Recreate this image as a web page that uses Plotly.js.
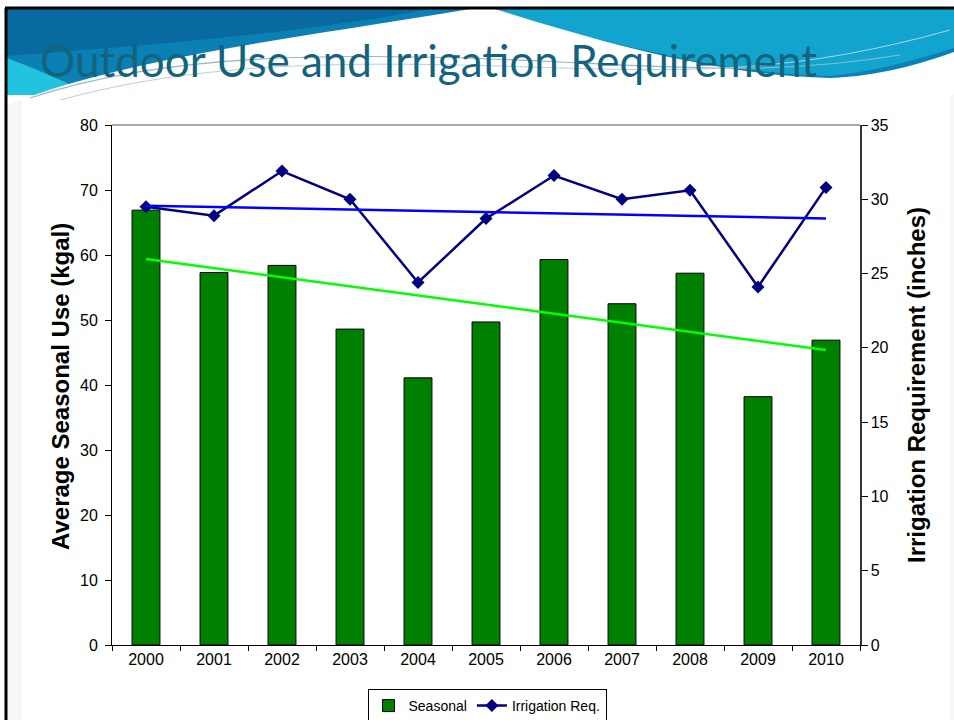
<!DOCTYPE html>
<html>
<head>
<meta charset="utf-8">
<script src="https://cdn.plot.ly/plotly-3.0.1.min.js"></script>
<style>html,body{margin:0;padding:0;background:#fff;}#chart{width:954px;height:720px;}</style>
</head>
<body>
<div id="chart"></div>
<script>
// ---- data ----
const years = ['2000','2001','2002','2003','2004','2005','2006','2007','2008','2009','2010'];
const seasonalUse = [66.9, 57.3, 58.4, 48.6, 41.1, 49.7, 59.3, 52.5, 57.2, 38.2, 46.9];
const irrigationReq = [29.5, 28.9, 31.9, 30.0, 24.4, 28.7, 31.6, 30.0, 30.6, 24.1, 30.8];
const seriesNames = ['Seasonal', 'Irrigation Req.'];
const chartTitle = 'Outdoor Use and Irrigation Requirement';
const leftAxisTitle = 'Average Seasonal Use (kgal)';
const rightAxisTitle = 'Irrigation Requirement (inches)';

// linear trend (least squares) derived from a series
function trend(vals) {
  const n = vals.length;
  let sx = 0, sy = 0, sxx = 0, sxy = 0;
  for (let i = 0; i < n; i++) { sx += i; sy += vals[i]; sxx += i * i; sxy += i * vals[i]; }
  const b = (n * sxy - sx * sy) / (n * sxx - sx * sx);
  const a = (sy - b * sx) / n;
  return vals.map((_, i) => a + b * i);
}

// ---- layout geometry helpers (pixels -> paper) ----
const W = 954, H = 720;
const M = {l: 112, r: 94, t: 125, b: 75, autoexpand: false};
const PW = W - M.l - M.r, PH = H - M.t - M.b;
const px = x => (x - M.l) / PW;
const py = y => (H - M.b - y) / PH;
function path(cmds) {
  return cmds.map(c => {
    const op = c[0]; const pts = c.slice(1); const out = [];
    for (let i = 0; i < pts.length; i += 2) out.push(px(pts[i]).toFixed(5) + ',' + py(pts[i + 1]).toFixed(5));
    return op + ' ' + out.join(' ');
  }).join(' ');
}
function shapePath(cmds, fill, close, line) {
  let d = path(cmds) + (close ? ' Z' : '');
  return {type: 'path', xref: 'paper', yref: 'paper', path: d, fillcolor: fill || 'rgba(0,0,0,0)',
          line: line || {width: 0}, layer: 'above'};
}

const shapes = [
  {type: 'rect', xref: 'paper', yref: 'paper', x0: px(7), x1: px(22), y0: py(720), y1: py(95),
   fillcolor: '#f6f6f6', line: {width: 0}, layer: 'below'},
  {type: 'rect', xref: 'paper', yref: 'paper', x0: px(950), x1: px(954), y0: py(720), y1: py(95),
   fillcolor: '#f6f6f6', line: {width: 0}, layer: 'below'},
  // header base
  {type: 'rect', xref: 'paper', yref: 'paper', x0: px(7), x1: px(954), y0: py(95), y1: py(9),
   fillcolor: '#0b80b4', line: {width: 0}, layer: 'below'},
  // darker top-left
  shapePath([['M', 7, 9], ['L', 430, 9], ['C', 330, 28, 200, 42, 7, 56]], '#086a9e', true),
  // right cyan region
  shapePath([['M', 480, 9], ['L', 954, 9], ['L', 954, 48], ['C', 910, 62, 870, 72, 830, 76], ['C', 720, 74, 600, 40, 480, 9]], '#10a4cf', true),
  // lower-left cyan
  shapePath([['M', 7, 58], ['C', 40, 70, 70, 85, 95, 95], ['L', 7, 95]], '#22c3df', true),
  // white swoosh
  shapePath([['M', 7, 105], ['C', 120, 60, 280, 40, 440, 14], ['L', 470, 9], ['L', 495, 9],
             ['C', 600, 42, 720, 76, 830, 78], ['C', 880, 76, 920, 64, 954, 52], ['L', 954, 95], ['L', 7, 95]], '#ffffff', true),
  // swoosh streak lines
  shapePath([['M', 30, 98], ['C', 160, 55, 320, 50, 560, 62], ['C', 680, 68, 780, 75, 900, 55]], null, false, {color: '#8fb9c8', width: 1.2}),
  shapePath([['M', 60, 100], ['C', 200, 62, 340, 60, 560, 68], ['C', 700, 72, 800, 72, 950, 30]], null, false, {color: '#b7d2dc', width: 1}),
  {type: 'rect', xref: 'paper', yref: 'paper', x0: px(22), x1: px(950), y0: py(720), y1: py(95),
   fillcolor: '#ffffff', line: {width: 0}, layer: 'below'},
  // slide black borders
  {type: 'line', xref: 'paper', yref: 'paper', x0: px(5), x1: px(954), y0: py(8), y1: py(8),
   line: {color: '#000000', width: 3}, layer: 'above'},
  {type: 'line', xref: 'paper', yref: 'paper', x0: px(6), x1: px(6), y0: py(8), y1: py(720),
   line: {color: '#000000', width: 3}, layer: 'above'},
  // plot top border (gray)
  {type: 'line', xref: 'paper', yref: 'paper', x0: 0, x1: 1, y0: 1, y1: 1,
   line: {color: '#8c8c8c', width: 1.5}, layer: 'above'}
];

const seasonalTrend = trend(seasonalUse);
const irrigationTrend = trend(irrigationReq);

const traces = [
  {type: 'bar', x: years, y: seasonalUse, name: seriesNames[0], yaxis: 'y',
   marker: {color: '#008000', line: {color: '#000000', width: 1}}},
  {type: 'scatter', mode: 'lines+markers', x: years, y: irrigationReq, name: seriesNames[1], yaxis: 'y2',
   line: {color: '#000080', width: 2.5}, marker: {symbol: 'diamond', size: 10, color: '#000080'}},
  {type: 'scatter', mode: 'lines', x: years, y: irrigationTrend, yaxis: 'y2', showlegend: false,
   line: {color: '#0000ff', width: 2.5}, hoverinfo: 'skip'},
  {type: 'scatter', mode: 'lines', x: years, y: seasonalTrend, yaxis: 'y', showlegend: false,
   line: {color: '#00ff00', width: 2.5}, hoverinfo: 'skip'}
];

const tickFont = {family: 'Liberation Sans, Arial, sans-serif', size: 16, color: '#000000'};
const axisTitleFont = {family: 'Liberation Sans, Arial, sans-serif', size: 24, color: '#000', weight: 'bold'};

const layout = {
  width: W, height: H,
  margin: M,
  paper_bgcolor: '#ffffff',
  plot_bgcolor: '#ffffcc',
  bargap: 0.59,
  showlegend: true,
  xaxis: {type: 'category', range: [-0.5, years.length - 0.5], tickson: 'boundaries', ticks: 'outside', ticklen: 5, tickcolor: '#000',
          showline: true, linecolor: '#000000', linewidth: 1, showgrid: false, zeroline: false,
          tickfont: tickFont, automargin: false},
  yaxis: {range: [0, 80], dtick: 10, ticks: 'outside', ticklen: 6, tickcolor: '#000',
          showline: true, linecolor: '#000000', linewidth: 1, showgrid: false, zeroline: false,
          tickfont: tickFont, ticklabelstandoff: 4, automargin: false},
  yaxis2: {range: [0, 35], dtick: 5, overlaying: 'y', side: 'right', ticks: 'outside', ticklen: 6, tickcolor: '#000',
           showline: true, linecolor: '#333333', linewidth: 1.5, showgrid: false, zeroline: false,
           tickfont: tickFont, automargin: false},
  legend: {orientation: 'h', x: px(487), xanchor: 'center', y: py(689), yanchor: 'top',
           bordercolor: '#000000', borderwidth: 1, bgcolor: '#ffffff',
           font: {family: 'Liberation Sans, Arial, sans-serif', size: 14, color: '#000'},
           itemwidth: 30, tracegroupgap: 0},
  shapes: shapes,
  annotations: [
    {text: chartTitle, xref: 'paper', yref: 'paper', x: px(38), y: py(60), xanchor: 'left', yanchor: 'middle',
     showarrow: false, font: {family: 'Lato, Open Sans, sans-serif', size: 44, color: '#14637d'}},
    {text: leftAxisTitle, xref: 'paper', yref: 'paper', x: px(60), y: py(387), xanchor: 'center', yanchor: 'middle',
     textangle: -90, showarrow: false, font: axisTitleFont},
    {text: rightAxisTitle, xref: 'paper', yref: 'paper', x: px(916), y: py(385), xanchor: 'center', yanchor: 'middle',
     textangle: -90, showarrow: false, font: axisTitleFont}
  ]
};

Plotly.newPlot('chart', traces, layout, {staticPlot: true, displayModeBar: false});
</script>
</body>
</html>
